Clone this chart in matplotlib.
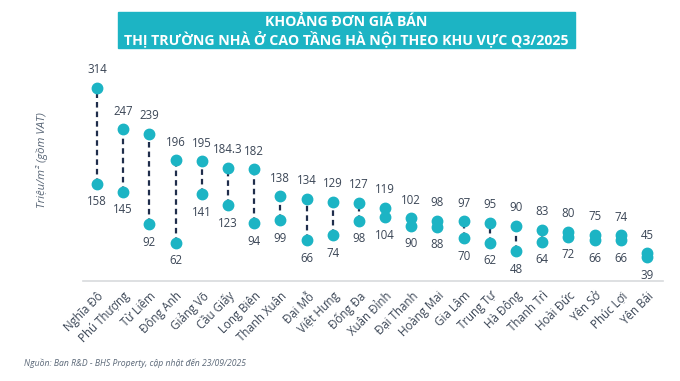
import matplotlib

matplotlib.use("Agg")
import matplotlib.pyplot as plt
from matplotlib.patches import Rectangle

districts = [
    "Nghĩa Đô", "Phú Thượng", "Từ Liêm", "Đông Anh", "Giảng Võ", "Cầu Giấy",
    "Long Biên", "Thanh Xuân", "Đại Mỗ", "Việt Hưng", "Đống Đa", "Xuân Đỉnh",
    "Đại Thanh", "Hoàng Mai", "Gia Lâm", "Trung Tự", "Hà Đông", "Thanh Trì",
    "Hoài Đức", "Yên Sở", "Phúc Lợi", "Yên Bái",
]
price_high = [314, 247, 239, 196, 195, 184.3, 182, 138, 134, 129, 127, 119,
              102, 98, 97, 95, 90, 83, 80, 75, 74, 45]
price_low = [158, 145, 92, 62, 141, 123, 94, 99, 66, 74, 98, 104,
             90, 88, 70, 62, 48, 64, 72, 66, 66, 39]

TEAL = "#1cb4c4"
NAVY = "#1f2d4b"
TEXT = "#3b4656"
FONT = "Open Sans"

plt.rcParams["font.family"] = [FONT, "DejaVu Sans"]

W, H = 680, 381
fig = plt.figure(figsize=(W / 100, H / 100), dpi=100)
fig.patch.set_facecolor("white")

# title band
fig.patches.append(Rectangle((118 / W, 1 - 48 / H), (575 - 118) / W, 36 / H,
                             transform=fig.transFigure, color=TEAL, zorder=0))
fig.text(346 / W, 1 - 21.5 / H, "KHOẢNG ĐƠN GIÁ BÁN", ha="center", va="center",
         color="white", fontsize=10.2, fontweight="bold")
fig.text(346 / W, 1 - 38.5 / H, "THỊ TRƯỜNG NHÀ Ở CAO TẦNG HÀ NỘI THEO KHU VỰC Q3/2025",
         ha="center", va="center", color="white", fontsize=10.2, fontweight="bold")

ymax = 340
ax = fig.add_axes([83 / W, (H - 281) / H, 580 / W, ymax * 0.615 / H])
x = list(range(len(districts)))
ax.vlines(x, price_low, price_high, colors=NAVY, linestyles=(0, (2.5, 1.8)),
          linewidth=1.6, zorder=2)
ax.plot(x, price_high, "o", color=TEAL, markersize=7.5, zorder=3)
ax.plot(x, price_low, "o", color=TEAL, markersize=7.5, zorder=3)

for i, (hi, lo) in enumerate(zip(price_high, price_low)):
    ax.annotate(f"{hi:g}", (i, hi), xytext=(0, 13), textcoords="offset points",
                ha="center", va="center", fontsize=8.3, color=TEXT)
    ax.annotate(f"{lo:g}", (i, lo), xytext=(0, -13), textcoords="offset points",
                ha="center", va="center", fontsize=8.3, color=TEXT)

ax.set_xlim(-0.535, 21.61)
ax.set_ylim(0, ymax)
for s in ["top", "right", "left"]:
    ax.spines[s].set_visible(False)
ax.spines["bottom"].set_color("#d8dadd")
ax.spines["bottom"].set_linewidth(1.2)
ax.set_yticks([])
ax.set_xticks(x)
ax.set_xticklabels(districts, rotation=45, ha="right", rotation_mode="anchor",
                   fontsize=8.3, color=TEXT)
ax.tick_params(axis="x", length=0, pad=6)

fig.text(42 / W, 1 - 160 / H, "Triệu/m² (gồm VAT)", rotation=90, ha="center",
         va="center", fontsize=8.2, style="italic", color="#5b6878")
fig.text(24 / W, 1 - 363 / H, "Nguồn: Ban R&D - BHS Property, cập nhật đến 23/09/2025",
         ha="left", va="center", fontsize=6.2, style="italic", color="#5b6878")

fig.savefig("out.png", dpi=100)
